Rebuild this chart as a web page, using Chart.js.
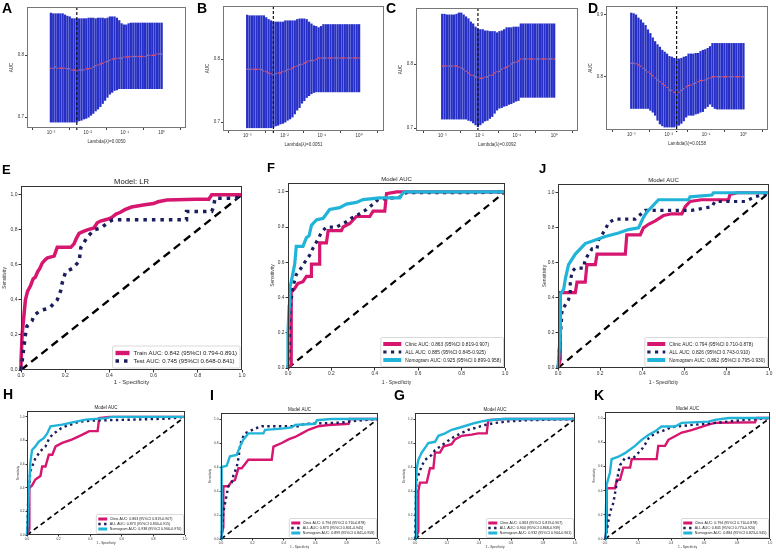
<!DOCTYPE html>
<html>
<head>
<meta charset="utf-8">
<script src="https://cdn.jsdelivr.net/npm/chart.js@4.4.1/dist/chart.umd.min.js"></script>
<style>
  body { margin: 0; background: #fff; }
  #fig { position: relative; width: 776px; height: 552px; overflow: hidden; font-family: "Liberation Sans", Arial, sans-serif; }
  #fig canvas { position: absolute; }
  .tag { position: absolute; font-weight: bold; line-height: 1; color: #000; }
</style>
</head>
<body>
<div id="fig"></div>
<script>
// ---- lasso cross-validation panels (A-D), 48 lambda steps each ----
const lassoTickPos = [0, 15.67, 31.33, 47];
const lassoTickLabels = ['10\u207B\u00B3', '10\u207B\u00B2', '10\u207B\u00B9', '10\u2070'];
const lassoBest = [11, 11, 15, 19];
const lassoLambdaText = ['Lambda(\u03BB)=0.0050', 'Lambda(\u03BB)=0.0051', 'Lambda(\u03BB)=0.0092', 'Lambda(\u03BB)=0.0158'];

const upperA = [0.868,0.867,0.867,0.867,0.867,0.867,0.865,0.863,0.862,0.859,0.859,0.859,0.859,0.859,0.859,0.859,0.860,0.860,0.860,0.859,0.860,0.860,0.860,0.859,0.860,0.862,0.862,0.862,0.860,0.856,0.851,0.849,0.849,0.851,0.852,0.852,0.852,0.852,0.852,0.852,0.852,0.852,0.852,0.852,0.852,0.852,0.852,0.852];
const lowerA = [0.692,0.692,0.692,0.692,0.692,0.692,0.692,0.692,0.692,0.692,0.692,0.692,0.694,0.695,0.697,0.698,0.700,0.703,0.706,0.710,0.713,0.717,0.722,0.727,0.732,0.737,0.740,0.743,0.744,0.746,0.746,0.746,0.746,0.746,0.746,0.746,0.746,0.746,0.746,0.746,0.746,0.746,0.746,0.746,0.746,0.746,0.746,0.746];
const meanA = [0.779,0.779,0.781,0.779,0.779,0.779,0.779,0.778,0.778,0.776,0.776,0.776,0.776,0.776,0.776,0.778,0.778,0.779,0.781,0.783,0.784,0.786,0.787,0.789,0.790,0.792,0.794,0.794,0.795,0.795,0.795,0.797,0.797,0.797,0.798,0.798,0.798,0.798,0.798,0.798,0.798,0.800,0.800,0.800,0.800,0.802,0.802,0.802];

const upperB = [0.870,0.869,0.869,0.869,0.869,0.869,0.869,0.869,0.866,0.863,0.861,0.859,0.859,0.859,0.859,0.859,0.861,0.861,0.861,0.861,0.861,0.863,0.864,0.864,0.864,0.863,0.859,0.856,0.853,0.852,0.850,0.852,0.855,0.855,0.855,0.855,0.855,0.855,0.855,0.855,0.855,0.855,0.855,0.855,0.855,0.855,0.855,0.855];
const lowerB = [0.691,0.691,0.691,0.691,0.691,0.691,0.691,0.691,0.691,0.691,0.691,0.692,0.694,0.695,0.697,0.698,0.700,0.703,0.705,0.708,0.713,0.719,0.723,0.730,0.734,0.739,0.742,0.745,0.747,0.748,0.748,0.748,0.748,0.748,0.748,0.748,0.748,0.748,0.748,0.748,0.748,0.748,0.748,0.748,0.748,0.748,0.748,0.748];
const meanB = [0.784,0.784,0.784,0.784,0.784,0.784,0.783,0.781,0.780,0.778,0.777,0.777,0.777,0.778,0.778,0.780,0.781,0.783,0.784,0.786,0.788,0.789,0.791,0.792,0.794,0.795,0.797,0.798,0.798,0.800,0.802,0.802,0.802,0.802,0.802,0.802,0.802,0.802,0.802,0.802,0.802,0.802,0.802,0.802,0.802,0.802,0.802,0.802];

const upperC = [0.878,0.878,0.877,0.877,0.877,0.877,0.878,0.880,0.880,0.877,0.874,0.871,0.866,0.863,0.858,0.855,0.854,0.854,0.852,0.852,0.851,0.851,0.851,0.849,0.851,0.852,0.854,0.857,0.857,0.857,0.858,0.858,0.858,0.863,0.863,0.863,0.863,0.863,0.863,0.863,0.863,0.863,0.863,0.863,0.863,0.863,0.863,0.863];
const lowerC = [0.714,0.714,0.714,0.714,0.714,0.714,0.714,0.714,0.714,0.714,0.714,0.712,0.711,0.708,0.705,0.702,0.705,0.708,0.711,0.712,0.715,0.718,0.723,0.728,0.731,0.732,0.734,0.735,0.737,0.738,0.740,0.742,0.743,0.748,0.748,0.748,0.748,0.748,0.748,0.748,0.748,0.748,0.748,0.748,0.748,0.748,0.748,0.748];
const meanC = [0.797,0.797,0.797,0.797,0.797,0.797,0.797,0.795,0.794,0.792,0.789,0.786,0.783,0.782,0.780,0.778,0.778,0.778,0.780,0.780,0.782,0.783,0.786,0.788,0.789,0.792,0.794,0.795,0.797,0.800,0.802,0.803,0.805,0.808,0.808,0.808,0.808,0.808,0.808,0.808,0.808,0.808,0.808,0.808,0.808,0.808,0.808,0.808];

const upperD = [0.903,0.902,0.900,0.895,0.892,0.887,0.883,0.876,0.870,0.863,0.857,0.852,0.848,0.843,0.840,0.837,0.833,0.832,0.830,0.829,0.829,0.830,0.832,0.833,0.837,0.837,0.837,0.838,0.838,0.841,0.843,0.844,0.846,0.849,0.854,0.854,0.854,0.854,0.854,0.854,0.854,0.854,0.854,0.854,0.854,0.854,0.854,0.854];
const lowerD = [0.749,0.749,0.749,0.749,0.749,0.749,0.749,0.749,0.746,0.743,0.738,0.730,0.724,0.721,0.719,0.719,0.719,0.719,0.719,0.721,0.722,0.725,0.729,0.735,0.738,0.738,0.738,0.740,0.741,0.743,0.744,0.749,0.752,0.756,0.752,0.749,0.748,0.748,0.748,0.748,0.748,0.748,0.748,0.748,0.748,0.748,0.748,0.748];
const meanD = [0.822,0.822,0.821,0.819,0.817,0.814,0.811,0.808,0.805,0.802,0.798,0.795,0.792,0.789,0.786,0.783,0.779,0.778,0.775,0.773,0.775,0.778,0.781,0.784,0.786,0.787,0.789,0.790,0.792,0.794,0.794,0.795,0.797,0.798,0.800,0.800,0.800,0.800,0.800,0.800,0.800,0.800,0.800,0.800,0.800,0.800,0.800,0.800];

// ---- ROC curves, [1 - specificity, sensitivity] ----
const rocTicks = [0, 0.2, 0.4, 0.6, 0.8, 1.0];
const diagonal = [[0, 0], [1, 1]];

const rocE_train = [[0,0],[0,0.05],[0.005,0.2],[0.02,0.4],[0.03,0.45],[0.043,0.48],[0.055,0.52],[0.065,0.53],[0.075,0.56],[0.085,0.58],[0.096,0.61],[0.11,0.63],[0.12,0.64],[0.15,0.65],[0.164,0.70],[0.225,0.70],[0.24,0.72],[0.25,0.75],[0.263,0.78],[0.28,0.79],[0.30,0.80],[0.33,0.81],[0.345,0.84],[0.36,0.85],[0.39,0.86],[0.41,0.87],[0.43,0.89],[0.45,0.90],[0.47,0.915],[0.5,0.93],[0.56,0.943],[0.6,0.95],[0.62,0.96],[0.66,0.97],[0.79,0.975],[0.85,0.975],[0.863,1],[1,1]];
const rocE_test = [[0,0],[0.01,0.1],[0.02,0.2],[0.027,0.25],[0.05,0.28],[0.058,0.31],[0.088,0.34],[0.119,0.35],[0.134,0.36],[0.164,0.40],[0.179,0.45],[0.187,0.50],[0.202,0.56],[0.233,0.58],[0.263,0.62],[0.271,0.70],[0.286,0.73],[0.301,0.76],[0.331,0.80],[0.362,0.81],[0.392,0.84],[0.415,0.857],[0.749,0.857],[0.749,0.905],[0.863,0.905],[0.871,0.93],[0.878,0.98],[0.97,0.98],[1,1]];
const labelsE = ['Train AUC: 0.842 (95%CI 0.794-0.891)', 'Test AUC: 0.745 (95%CI 0.648-0.841)'];

const rocF_clinic = [[0,0],[0.015,0.02],[0.015,0.43],[0.03,0.45],[0.046,0.48],[0.069,0.49],[0.085,0.52],[0.108,0.52],[0.108,0.59],[0.146,0.59],[0.146,0.71],[0.177,0.71],[0.185,0.78],[0.246,0.78],[0.254,0.80],[0.285,0.82],[0.315,0.86],[0.377,0.86],[0.392,0.89],[0.446,0.89],[0.454,0.99],[0.5,1],[1,1]];
const rocF_all = [[0,0],[0.005,0.1],[0.008,0.31],[0.015,0.39],[0.023,0.46],[0.038,0.53],[0.062,0.57],[0.077,0.60],[0.1,0.64],[0.115,0.68],[0.138,0.73],[0.154,0.77],[0.177,0.80],[0.223,0.80],[0.238,0.81],[0.269,0.83],[0.292,0.85],[0.323,0.87],[0.362,0.90],[0.392,0.93],[0.415,0.956],[0.515,0.97],[0.546,0.995],[0.869,0.995],[1,1]];
const rocF_nomo = [[0,0],[0,0.2],[0.005,0.35],[0.008,0.45],[0.02,0.52],[0.031,0.59],[0.038,0.69],[0.069,0.69],[0.085,0.74],[0.097,0.75],[0.108,0.81],[0.131,0.84],[0.162,0.85],[0.192,0.90],[0.238,0.91],[0.269,0.93],[0.315,0.94],[0.346,0.956],[0.423,0.966],[0.515,0.966],[0.531,0.995],[0.546,1],[1,1]];
const labelsF = ['Clinic AUC: 0.863 (95%CI 0.819-0.907)', 'ALL AUC: 0.885 (95%CI 0.845-0.925)', 'Nomogram AUC: 0.925 (95%CI 0.899-0.958)'];

const rocJ_clinic = [[0,0],[0.011,0.05],[0.011,0.43],[0.082,0.43],[0.09,0.49],[0.129,0.49],[0.137,0.59],[0.177,0.59],[0.185,0.65],[0.319,0.65],[0.326,0.76],[0.39,0.76],[0.405,0.80],[0.429,0.82],[0.461,0.84],[0.5,0.87],[0.539,0.88],[0.587,0.88],[0.603,0.92],[0.626,0.95],[0.681,0.96],[0.808,0.96],[0.815,0.99],[0.85,1],[1,1]];
const rocJ_all = [[0,0],[0.016,0.26],[0.019,0.33],[0.05,0.39],[0.058,0.43],[0.058,0.48],[0.066,0.55],[0.082,0.57],[0.121,0.57],[0.129,0.62],[0.161,0.68],[0.185,0.68],[0.192,0.73],[0.208,0.76],[0.224,0.79],[0.24,0.83],[0.271,0.85],[0.366,0.85],[0.413,0.90],[0.634,0.90],[0.729,0.92],[0.744,0.95],[0.886,0.95],[0.934,0.977],[0.965,0.987],[1,1]];
const rocJ_nomo = [[0,0],[0.011,0.2],[0.011,0.42],[0.027,0.45],[0.035,0.51],[0.05,0.59],[0.082,0.65],[0.129,0.71],[0.224,0.75],[0.287,0.77],[0.334,0.79],[0.382,0.80],[0.405,0.86],[0.421,0.89],[0.437,0.91],[0.476,0.96],[0.618,0.96],[0.626,0.977],[0.729,0.987],[0.737,1],[1,1]];
const labelsJ = ['Clinic AUC: 0.794 (95%CI 0.710-0.878)', 'ALL AUC: 0.826 (95%CI 0.743-0.910)', 'Nomogram AUC: 0.862 (95%CI 0.795-0.930)'];

const rocH_clinic = [[0,0],[0.015,0.05],[0.015,0.4],[0.032,0.42],[0.053,0.47],[0.085,0.50],[0.096,0.58],[0.117,0.58],[0.138,0.68],[0.16,0.68],[0.181,0.75],[0.223,0.78],[0.287,0.81],[0.351,0.85],[0.394,0.88],[0.447,0.88],[0.457,0.99],[0.521,1],[1,1]];
const rocH_all = [[0,0],[0.008,0.3],[0.021,0.54],[0.053,0.65],[0.085,0.71],[0.117,0.75],[0.138,0.81],[0.16,0.85],[0.191,0.88],[0.223,0.91],[0.277,0.935],[0.33,0.96],[0.436,0.97],[0.67,0.977],[0.883,0.985],[1,1]];
const rocH_nomo = [[0,0],[0.01,0.3],[0.021,0.61],[0.032,0.72],[0.053,0.75],[0.074,0.79],[0.106,0.82],[0.128,0.86],[0.149,0.92],[0.223,0.935],[0.309,0.96],[0.372,0.977],[0.5,0.99],[0.543,1],[1,1]];
const labelsH = ['Clinic AUC: 0.863 (95%CI 0.819-0.907)', 'ALL AUC: 0.873 (95%CI 0.830-0.915)', 'Nomogram AUC: 0.938 (95%CI 0.906-0.970)'];

const rocI_clinic = [[0,0],[0.015,0.1],[0.015,0.44],[0.047,0.44],[0.068,0.48],[0.089,0.49],[0.111,0.59],[0.132,0.59],[0.174,0.66],[0.323,0.66],[0.334,0.77],[0.387,0.80],[0.43,0.83],[0.472,0.85],[0.515,0.88],[0.557,0.91],[0.621,0.94],[0.685,0.95],[0.813,0.96],[0.82,1],[1,1]];
const rocI_all = [[0,0],[0.008,0.1],[0.015,0.22],[0.026,0.30],[0.047,0.44],[0.068,0.47],[0.079,0.53],[0.1,0.60],[0.111,0.67],[0.121,0.77],[0.132,0.83],[0.153,0.88],[0.217,0.92],[0.26,0.94],[0.494,0.94],[0.536,0.96],[0.77,0.97],[0.855,0.985],[1,1]];
const rocI_nomo = [[0,0],[0.004,0.4],[0.004,0.60],[0.036,0.61],[0.057,0.69],[0.1,0.70],[0.121,0.77],[0.143,0.83],[0.174,0.88],[0.27,0.88],[0.281,0.91],[0.387,0.92],[0.451,0.93],[0.472,0.95],[0.6,0.96],[0.611,0.99],[0.7,1],[1,1]];
const labelsI = ['Clinic AUC: 0.794 (95%CI 0.710-0.878)', 'ALL AUC: 0.873 (95%CI 0.801-0.945)', 'Nomogram AUC: 0.899 (95%CI 0.841-0.958)'];

const rocG_clinic = [[0,0],[0.021,0.06],[0.021,0.40],[0.031,0.47],[0.073,0.47],[0.094,0.59],[0.115,0.59],[0.125,0.72],[0.156,0.72],[0.177,0.77],[0.229,0.79],[0.25,0.83],[0.292,0.86],[0.354,0.87],[0.396,0.88],[0.448,0.88],[0.458,0.99],[0.563,1],[1,1]];
const rocG_all = [[0,0],[0.005,0.3],[0.01,0.49],[0.042,0.61],[0.063,0.66],[0.104,0.70],[0.125,0.74],[0.156,0.77],[0.188,0.80],[0.229,0.84],[0.271,0.87],[0.333,0.91],[0.375,0.925],[0.438,0.95],[0.5,0.967],[0.583,0.98],[0.708,0.99],[1,1]];
const rocG_nomo = [[0,0],[0.005,0.35],[0.01,0.58],[0.021,0.66],[0.042,0.72],[0.063,0.76],[0.083,0.80],[0.125,0.81],[0.146,0.86],[0.188,0.88],[0.229,0.91],[0.271,0.925],[0.333,0.95],[0.375,0.967],[0.417,0.98],[0.458,0.99],[0.55,1],[1,1]];
const labelsG = ['Clinic AUC: 0.863 (95%CI 0.819-0.907)', 'ALL AUC: 0.904 (95%CI 0.868-0.939)', 'Nomogram AUC: 0.932 (95%CI 0.904-0.961)'];

const rocK_clinic = [[0,0],[0.01,0.08],[0.01,0.42],[0.061,0.42],[0.071,0.49],[0.091,0.49],[0.111,0.59],[0.152,0.59],[0.162,0.66],[0.313,0.66],[0.323,0.77],[0.364,0.77],[0.384,0.82],[0.424,0.85],[0.465,0.88],[0.525,0.90],[0.626,0.945],[0.667,0.96],[0.909,0.965],[0.92,1],[1,1]];
const rocK_all = [[0,0],[0.015,0.1],[0.03,0.22],[0.051,0.30],[0.061,0.38],[0.071,0.46],[0.081,0.55],[0.091,0.61],[0.121,0.67],[0.172,0.67],[0.222,0.74],[0.242,0.78],[0.263,0.83],[0.303,0.875],[0.343,0.89],[0.404,0.925],[0.505,0.94],[0.667,0.96],[0.848,0.985],[1,1]];
const rocK_nomo = [[0,0],[0.005,0.2],[0.01,0.45],[0.03,0.55],[0.04,0.66],[0.081,0.68],[0.121,0.71],[0.152,0.74],[0.182,0.77],[0.222,0.82],[0.263,0.86],[0.303,0.89],[0.343,0.93],[0.424,0.93],[0.465,0.96],[0.626,0.97],[0.667,0.985],[0.75,1],[1,1]];
const labelsK = ['Clinic AUC: 0.794 (95%CI 0.710-0.878)', 'ALL AUC: 0.845 (95%CI 0.770-0.920)', 'Nomogram AUC: 0.884 (95%CI 0.823-0.945)'];

// ---- styling ----
const FONT = '"Liberation Sans", Arial, sans-serif';
const MAGENTA = '#D6166F', NAVY = '#1B1E5C', CYAN = '#21B4D9', BAR_BLUE = '#2730C6', MEAN_RED = '#FF5A5A';

Chart.defaults.font.family = FONT;
Chart.defaults.color = '#222';

const fig = document.getElementById('fig');

function addCanvas(id, left, top, w, h) {
  const c = document.createElement('canvas');
  c.id = id;
  c.width = w; c.height = h;
  c.style.left = left + 'px'; c.style.top = top + 'px';
  c.style.width = w + 'px'; c.style.height = h + 'px';
  fig.appendChild(c);
  return c;
}

// frame, dashed lambda marker, panel title and in-plot legend
const decor = {
  id: 'decor',
  afterDatasetsDraw(chart, args, o) {
    if (o.marker == null) return;
    const a = chart.chartArea, ctx = chart.ctx;
    const x = chart.scales.x.getPixelForValue(o.marker);
    ctx.save();
    ctx.strokeStyle = '#111';
    ctx.lineWidth = 1.2;
    ctx.setLineDash([3, 2]);
    ctx.beginPath();
    ctx.moveTo(x, a.top);
    ctx.lineTo(x, a.bottom + 2);
    ctx.stroke();
    ctx.restore();
  },
  afterDraw(chart, args, o) {
    const a = chart.chartArea, ctx = chart.ctx;
    ctx.save();
    ctx.strokeStyle = o.frame || '#444';
    ctx.lineWidth = 1;
    ctx.strokeRect(Math.round(a.left) + 0.5, Math.round(a.top) + 0.5, Math.round(a.width) - 1, Math.round(a.height) - 1);

    if (o.title) {
      ctx.fillStyle = '#222';
      ctx.font = o.titleSize + 'px ' + FONT;
      ctx.textAlign = 'center';
      ctx.textBaseline = 'bottom';
      ctx.fillText(o.title, (a.left + a.right) / 2, a.top - 0.5);
    }

    if (o.legend) {
      const L = o.legend;
      const items = chart.data.datasets.filter(d => d.label);
      ctx.font = L.font + 'px ' + FONT;
      const tw = Math.max(...items.map(d => ctx.measureText(d.label).width));
      const w = L.pad * 2 + L.sample + L.gap + tw;
      const h = L.pad * 2 + L.row * items.length;
      const x0 = a.right - L.margin - w, y0 = a.bottom - L.margin - h;
      ctx.fillStyle = '#fff';
      ctx.strokeStyle = '#c8c8c8';
      ctx.lineWidth = 0.7;
      ctx.beginPath();
      ctx.roundRect(x0, y0, w, h, 1.5);
      ctx.fill();
      ctx.stroke();
      items.forEach((d, i) => {
        const cy = y0 + L.pad + L.row * (i + 0.5);
        const solid = !(d.borderDash && d.borderDash.length);
        ctx.strokeStyle = d.borderColor;
        ctx.lineWidth = solid ? d.borderWidth * 1.25 : d.borderWidth;
        ctx.setLineDash(d.borderDash || []);
        ctx.lineCap = 'butt';
        ctx.beginPath();
        ctx.moveTo(x0 + L.pad, cy);
        ctx.lineTo(x0 + L.pad + L.sample, cy);
        ctx.stroke();
        ctx.setLineDash([]);
        ctx.fillStyle = '#222';
        ctx.textAlign = 'left';
        ctx.textBaseline = 'middle';
        ctx.fillText(d.label, x0 + L.pad + L.sample + L.gap, cy + 0.3);
      });
    }
    ctx.restore();
  }
};
Chart.register(decor);

function lassoChart(p) {
  const yw = 22, xh = 16, pt = 2, pr = 4;
  const c = addCanvas(p.id, p.l - yw, p.t - pt, p.r - p.l + yw + pr, p.b - p.t + pt + xh);
  new Chart(c, {
    type: 'bar',
    data: {
      datasets: [
        {
          type: 'line',
          data: p.mean.map((v, i) => ({ x: i, y: v })),
          showLine: false,
          pointRadius: 0.75,
          pointBorderWidth: 0,
          pointBackgroundColor: MEAN_RED,
          order: 0
        },
        {
          type: 'bar',
          data: p.lower.map((v, i) => ({ x: i, y: [v, p.upper[i]] })),
          backgroundColor: BAR_BLUE,
          barThickness: 1.6,
          order: 1
        }
      ]
    },
    options: {
      responsive: false,
      animation: false,
      events: [],
      layout: { padding: { top: pt, right: pr, left: 0, bottom: 0 } },
      plugins: {
        legend: { display: false },
        tooltip: { enabled: false },
        decor: { marker: p.best, frame: '#777' }
      },
      scales: {
        x: {
          type: 'linear',
          min: p.xMin, max: p.xMax,
          afterBuildTicks: s => { s.ticks = lassoTickPos.map(v => ({ value: v })); },
          afterFit: s => { s.height = xh; },
          ticks: {
            autoSkip: false, maxRotation: 0, padding: 0.5,
            font: { size: 4.5 }, color: '#333',
            callback: v => lassoTickLabels[lassoTickPos.indexOf(v)]
          },
          grid: { drawOnChartArea: false, tickLength: 2, color: '#444' },
          border: { display: false },
          title: { display: true, text: p.lambdaText, font: { size: 4.5 }, color: '#333', padding: { top: 0, bottom: 0 } }
        },
        y: {
          min: p.yMin, max: p.yMax,
          afterBuildTicks: s => { s.ticks = p.yTicks.map(v => ({ value: v })); },
          afterFit: s => { s.width = yw; },
          ticks: { font: { size: 4.5 }, color: '#333', padding: 1, callback: v => v.toFixed(1) },
          grid: { drawOnChartArea: false, tickLength: 2, color: '#444' },
          border: { display: false },
          title: { display: true, text: 'AUC', font: { size: 4.5 }, color: '#333', padding: { top: 4, bottom: 0 } }
        }
      }
    }
  });
}

lassoChart({ id: 'A', l: 27, r: 186, t: 5, b: 128, xMin: -1.7, xMax: 48.9, yMin: 0.6825, yMax: 0.8778, yTicks: [0.7, 0.8],
  upper: upperA, lower: lowerA, mean: meanA, best: lassoBest[0], lambdaText: lassoLambdaText[0] });
lassoChart({ id: 'B', l: 223, r: 384, t: 4, b: 131, xMin: -1.7, xMax: 49, yMin: 0.6859, yMax: 0.8844, yTicks: [0.7, 0.8],
  upper: upperB, lower: lowerB, mean: meanB, best: lassoBest[1], lambdaText: lassoLambdaText[1] });
lassoChart({ id: 'C', l: 416, r: 578, t: 6, b: 131, xMin: -2.5, xMax: 48.5, yMin: 0.6954, yMax: 0.8877, yTicks: [0.7, 0.8],
  upper: upperC, lower: lowerC, mean: meanC, best: lassoBest[2], lambdaText: lassoLambdaText[2] });
lassoChart({ id: 'D', l: 606, r: 768, t: 4, b: 130, xMin: -2.1, xMax: 48.8, yMin: 0.7143, yMax: 0.9143, yTicks: [0.8, 0.9],
  upper: upperD, lower: lowerD, mean: meanD, best: lassoBest[3], lambdaText: lassoLambdaText[3] });

// size classes for ROC panels
const rocStyles = {
  big:   { tick: 5, axisX: 6, axisY: 4.8, title: 7.7, lw: 3.5, dash: [3.5, 5], diagW: 2.4, diagDash: [8, 5], tl: 2.5, xPad: 3.2, yPad: 1.5, pt: 14,
           legend: { font: 6, row: 8, sample: 14, pad: 3, gap: 4, margin: 2 } },
  mid:   { tick: 4.8, axisX: 5, axisY: 5, title: 6, lw: 3.2, dash: [3.2, 4.5], diagW: 2.2, diagDash: [7, 5], tl: 2.5, xPad: 2.8, yPad: 1.2, pt: 12,
           legend: { font: 4.8, row: 8, sample: 18, pad: 2.5, gap: 4, margin: 1.5 } },
  small: { tick: 3.2, axisX: 3.2, axisY: 3.2, title: 4.5, lw: 2.4, dash: [2.4, 3.4], diagW: 1.7, diagDash: [5, 3.5], tl: 1.5, xPad: 2.0, yPad: 1.0, pt: 8,
           legend: { font: 3.6, row: 5, sample: 9, pad: 2, gap: 2.5, margin: 1.5 } }
};

function rocLine(label, pts, color, st, dotted, order) {
  return {
    label, data: pts, borderColor: color,
    borderWidth: st.lw, borderDash: dotted ? st.dash : [],
    pointRadius: 0, tension: 0, fill: false, clip: 4, order,
    borderCapStyle: 'butt', borderJoinStyle: 'miter'
  };
}

function rocChart(p) {
  const st = rocStyles[p.size], pr = 4;
  const c = addCanvas('roc' + p.id, p.l - p.yw, p.t - st.pt, p.r - p.l + p.yw + pr, p.b - p.t + st.pt + p.xh);
  const fmt = v => p.comma ? v.toFixed(1).replace('.', ',') : v.toFixed(1);
  const sets = [{
    data: diagonal, borderColor: '#000', borderWidth: st.diagW, borderDash: st.diagDash,
    pointRadius: 0, fill: false, order: 9, borderCapStyle: 'butt'
  }];
  p.curves.forEach(([label, pts, color, dotted], i) => {
    sets.push(rocLine(label, pts, color, st, dotted, p.curves.length - i));
  });
  new Chart(c, {
    type: 'line',
    data: { datasets: sets },
    options: {
      responsive: false,
      animation: false,
      events: [],
      layout: { padding: { top: st.pt, right: pr, left: 0, bottom: 0 } },
      plugins: {
        legend: { display: false },
        tooltip: { enabled: false },
        decor: { title: p.title, titleSize: st.title, frame: '#333', legend: st.legend }
      },
      scales: {
        x: {
          type: 'linear', min: 0, max: 1,
          afterBuildTicks: s => { s.ticks = rocTicks.map(v => ({ value: v })); },
          afterFit: s => { s.height = p.xh; },
          ticks: { autoSkip: false, maxRotation: 0, padding: 0.5, font: { size: st.tick }, color: '#333', callback: v => v.toFixed(1) },
          grid: { drawOnChartArea: false, tickLength: st.tl, color: '#333' },
          border: { display: false },
          title: { display: true, text: '1 - Specificity', font: { size: st.axisX }, color: '#333', padding: { top: 0, bottom: st.xPad } }
        },
        y: {
          type: 'linear', min: 0, max: 1.05,
          afterBuildTicks: s => { s.ticks = rocTicks.map(v => ({ value: v })); },
          afterFit: s => { s.width = p.yw; },
          ticks: { autoSkip: false, padding: 1, font: { size: st.tick }, color: '#333', callback: v => fmt(v) },
          grid: { drawOnChartArea: false, tickLength: st.tl, color: '#333' },
          border: { display: false },
          title: { display: true, text: 'Sensitivity', font: { size: st.axisY }, color: '#333', padding: { top: st.yPad, bottom: 0 } }
        }
      }
    }
  });
}

rocChart({ id: 'E', size: 'big', l: 21, r: 242, t: 186, b: 370, yw: 21, xh: 19, comma: true, title: 'Model: LR',
  curves: [[labelsE[0], rocE_train, MAGENTA, false], [labelsE[1], rocE_test, NAVY, true]] });
rocChart({ id: 'F', size: 'mid', l: 288, r: 505, t: 183, b: 368, yw: 20, xh: 20, title: 'Model AUC',
  curves: [[labelsF[0], rocF_clinic, MAGENTA, false], [labelsF[1], rocF_all, NAVY, true], [labelsF[2], rocF_nomo, CYAN, false]] });
rocChart({ id: 'J', size: 'mid', l: 558, r: 769, t: 184, b: 368, yw: 18, xh: 20, title: 'Model AUC',
  curves: [[labelsJ[0], rocJ_clinic, MAGENTA, false], [labelsJ[1], rocJ_all, NAVY, true], [labelsJ[2], rocJ_nomo, CYAN, false]] });
rocChart({ id: 'H', size: 'small', l: 27, r: 185, t: 411, b: 535, yw: 12, xh: 12, title: 'Model AUC',
  curves: [[labelsH[0], rocH_clinic, MAGENTA, false], [labelsH[1], rocH_all, NAVY, true], [labelsH[2], rocH_nomo, CYAN, false]] });
rocChart({ id: 'I', size: 'small', l: 221, r: 378, t: 413, b: 539, yw: 14, xh: 12, title: 'Model AUC',
  curves: [[labelsI[0], rocI_clinic, MAGENTA, false], [labelsI[1], rocI_all, NAVY, true], [labelsI[2], rocI_nomo, CYAN, false]] });
rocChart({ id: 'G', size: 'small', l: 415, r: 575, t: 413, b: 539, yw: 14, xh: 12, title: 'Model AUC',
  curves: [[labelsG[0], rocG_clinic, MAGENTA, false], [labelsG[1], rocG_all, NAVY, true], [labelsG[2], rocG_nomo, CYAN, false]] });
rocChart({ id: 'K', size: 'small', l: 605, r: 770, t: 412, b: 539, yw: 14, xh: 12, title: 'Model AUC',
  curves: [[labelsK[0], rocK_clinic, MAGENTA, false], [labelsK[1], rocK_all, NAVY, true], [labelsK[2], rocK_nomo, CYAN, false]] });

// panel letters
const panelTags = [
  ['A', 2, 1, 14], ['B', 197, 1, 14], ['C', 386, 1, 14], ['D', 588, 1, 14],
  ['E', 2, 163, 13], ['F', 267, 161, 13], ['J', 539, 162, 13],
  ['H', 3, 387, 14], ['I', 210, 388, 14], ['G', 394, 388, 14], ['K', 594, 388, 14]
];
panelTags.forEach(([t, x, y, s]) => {
  const d = document.createElement('div');
  d.className = 'tag';
  d.textContent = t;
  d.style.left = x + 'px';
  d.style.top = y + 'px';
  d.style.fontSize = s + 'px';
  fig.appendChild(d);
});
</script>
</body>
</html>
